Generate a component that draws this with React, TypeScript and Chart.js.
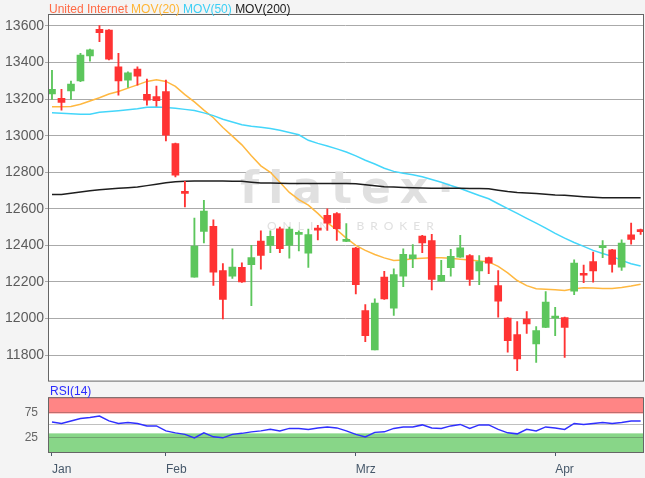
import React, { useEffect, useRef } from 'react';
import { Chart, registerables } from 'chart.js';

Chart.register(...registerables);
Chart.defaults.font.family = '"Liberation Sans", Arial, sans-serif';

// ---- data (one entry per trading day) ----
const OPEN = [13228, 13204, 13245, 13299, 13437, 13582, 13578, 13377, 13304, 13364, 13226, 13214, 13241, 12957, 12692, 12226, 12477, 12504, 12263, 12232, 12280, 12295, 12424, 12400, 12491, 12400, 12460, 12358, 12490, 12564, 12574, 12422, 12385, 12044, 11829, 12227, 12057, 12232, 12327, 12451, 12427, 12205, 12278, 12336, 12345, 12260, 12333, 12181, 12002, 11912, 11997, 11861, 11952, 12002, 12005, 12150, 12243, 12311, 12388, 12376, 12281, 12458, 12481];
const HIGH = [13358, 13253, 13299, 13450, 13474, 13602, 13580, 13450, 13350, 13377, 13310, 13271, 13304, 12960, 12750, 12550, 12647, 12540, 12300, 12382, 12305, 12400, 12480, 12480, 12500, 12500, 12480, 12490, 12510, 12600, 12580, 12520, 12390, 12077, 12108, 12258, 12272, 12382, 12405, 12455, 12460, 12318, 12378, 12455, 12350, 12345, 12336, 12263, 12005, 11984, 12038, 11956, 12148, 12062, 12008, 12321, 12293, 12363, 12427, 12378, 12431, 12522, 12490];
const LOW = [13198, 13140, 13199, 13295, 13408, 13514, 13415, 13222, 13264, 13277, 13167, 13162, 12972, 12775, 12610, 12226, 12413, 12181, 11998, 12220, 12198, 12071, 12270, 12360, 12360, 12330, 12370, 12280, 12430, 12482, 12427, 12420, 12135, 11874, 11829, 12105, 12017, 12175, 12278, 12360, 12157, 12203, 12232, 12334, 12181, 12186, 12245, 12007, 11816, 11715, 11919, 11760, 11950, 11907, 11788, 12130, 12196, 12199, 12333, 12254, 12263, 12407, 12460];
const CLOSE = [13253, 13182, 13282, 13441, 13469, 13563, 13418, 13299, 13344, 13326, 13195, 13191, 13003, 12784, 12685, 12396, 12588, 12254, 12104, 12281, 12200, 12333, 12345, 12450, 12382, 12490, 12470, 12459, 12484, 12522, 12491, 12431, 12186, 11907, 12084, 12108, 12241, 12351, 12349, 12414, 12214, 12236, 12340, 12387, 12214, 12311, 12303, 12095, 11879, 11779, 11970, 11934, 12090, 12008, 11952, 12303, 12237, 12260, 12394, 12296, 12413, 12433, 12475];

const MA20 = [13158, 13158, 13160, 13172, 13190, 13208, 13228, 13242, 13260, 13278, 13297, 13306, 13297, 13270, 13225, 13185, 13140, 13098, 13045, 12998, 12950, 12890, 12835, 12800, 12745, 12690, 12650, 12620, 12575, 12525, 12485, 12440, 12400, 12373, 12350, 12332, 12318, 12320, 12327, 12330, 12333, 12333, 12330, 12325, 12320, 12315, 12310, 12285, 12250, 12208, 12180, 12163, 12160, 12158, 12153, 12163, 12168, 12167, 12164, 12165, 12170, 12178, 12188];
const MA50 = [13125, 13123, 13120, 13118, 13117, 13128, 13132, 13137, 13142, 13148, 13156, 13157, 13154, 13150, 13144, 13138, 13125, 13110, 13090, 13075, 13060, 13052, 13046, 13040, 13030, 13018, 13005, 12975, 12958, 12944, 12928, 12911, 12890, 12866, 12845, 12822, 12805, 12795, 12786, 12775, 12760, 12745, 12728, 12711, 12692, 12673, 12655, 12628, 12601, 12575, 12548, 12522, 12495, 12466, 12440, 12416, 12395, 12373, 12356, 12340, 12318, 12300, 12288];
const MA200 = [12679, 12679, 12685, 12692, 12699, 12705, 12709, 12713, 12716, 12720, 12727, 12735, 12743, 12748, 12751, 12752, 12752, 12752, 12752, 12751, 12751, 12746, 12742, 12741, 12740, 12738, 12738, 12738, 12738, 12738, 12738, 12738, 12737, 12732, 12726, 12721, 12719, 12717, 12715, 12714, 12713, 12713, 12712, 12712, 12711, 12711, 12710, 12702, 12695, 12690, 12687, 12684, 12680, 12676, 12674, 12670, 12666, 12663, 12661, 12661, 12661, 12661, 12661];
const RSI14 = [55.6, 53, 58, 63, 65, 67.6, 58, 53, 55, 53, 48, 48, 38, 34, 31, 24, 34, 26, 24, 31, 33, 36, 38, 41, 38, 43, 43, 41, 44, 46, 44, 38, 31, 26, 35, 36, 43, 46, 46, 50, 44, 43, 48, 51, 43, 50, 50, 41, 34, 32, 41, 38, 46, 44, 41, 53, 51, 53, 55, 53, 55, 57.6, 57.6];

const Y_TICKS = [11800, 12000, 12200, 12400, 12600, 12800, 13000, 13200, 13400, 13600];
const RSI_TICKS = [25, 50, 75];
const RSI_LABELED = [25, 75];
const RSI_HIGH_ZONE = 73;
const RSI_LOW_ZONE = 33;
const MONTH_LABELS = ['Jan', 'Feb', 'Mrz', 'Apr'];
const MONTH_INDEX = [0, 12, 32, 53];

const GREEN = '#5cc65c';
const RED = '#ff3333';
const X_MIN = -0.42;
const X_MAX = 62.25;

const framePlugin = (bands: boolean) => ({
  id: 'frame',
  beforeDraw(chart: any) {
    const { ctx, chartArea: a } = chart;
    const w = a.right - a.left;
    ctx.save();
    ctx.fillStyle = '#ffffff';
    ctx.fillRect(a.left, a.top, w, a.bottom - a.top);
    if (bands) {
      const y = chart.scales.y;
      const yHigh = y.getPixelForValue(RSI_HIGH_ZONE);
      const yLow = y.getPixelForValue(RSI_LOW_ZONE);
      ctx.fillStyle = '#ff8585';
      ctx.fillRect(a.left, a.top, w, yHigh - a.top);
      ctx.fillStyle = '#88d688';
      ctx.fillRect(a.left, yLow, w, a.bottom - yLow);
    }
    ctx.restore();
  },
  afterDraw(chart: any) {
    const { ctx, chartArea: a } = chart;
    ctx.save();
    ctx.strokeStyle = '#666666';
    ctx.lineWidth = 1;
    ctx.strokeRect(a.left + 0.5, a.top + 0.5, a.right - a.left, a.bottom - a.top);
    ctx.restore();
  },
});

const watermarkPlugin = {
  id: 'watermark',
  beforeDatasetsDraw(chart: any) {
    const ctx = chart.ctx;
    ctx.save();
    ctx.fillStyle = '#e0e0e0';
    ctx.textBaseline = 'alphabetic';
    ctx.font = 'bold 44px "DejaVu Sans", sans-serif';
    (ctx as any).letterSpacing = '9px';
    ctx.fillText('flatex·', 240, 203);
    ctx.font = '12px Lato, "Open Sans", sans-serif';
    (ctx as any).letterSpacing = '6px';
    ctx.fillText('ONLINE BROKER', 267, 230);
    ctx.restore();
  },
};

export default function App() {
  const mainRef = useRef<HTMLCanvasElement>(null);
  const rsiRef = useRef<HTMLCanvasElement>(null);

  useEffect(() => {
    const idx = CLOSE.map((_, i) => i);
    const colors = idx.map((i) => (CLOSE[i] >= OPEN[i] ? GREEN : RED));

    const main = new Chart(mainRef.current as HTMLCanvasElement, {
      type: 'bar',
      data: {
        datasets: [
          {
            type: 'bar',
            label: 'body',
            data: idx.map((i) => ({ x: i, y: [Math.min(OPEN[i], CLOSE[i]), Math.max(OPEN[i], CLOSE[i])] })) as any,
            backgroundColor: colors,
            borderWidth: 0,
            barThickness: 7,
            minBarLength: 2,
            grouped: false,
            order: 0,
          } as any,
          {
            type: 'bar',
            label: 'wick',
            data: idx.map((i) => ({ x: i, y: [LOW[i], HIGH[i]] })) as any,
            backgroundColor: colors,
            borderWidth: 0,
            barThickness: 1.2,
            grouped: false,
            order: 1,
          } as any,
          {
            type: 'line',
            label: 'MOV(200)',
            data: idx.map((i) => ({ x: i, y: MA200[i] })),
            borderColor: '#1e1e1e',
            borderWidth: 1.5,
            pointRadius: 0,
            order: 2,
          } as any,
          {
            type: 'line',
            label: 'MOV(50)',
            data: idx.map((i) => ({ x: i, y: MA50[i] })),
            borderColor: '#44d6fa',
            borderWidth: 1.5,
            pointRadius: 0,
            order: 2,
          } as any,
          {
            type: 'line',
            label: 'MOV(20)',
            data: idx.map((i) => ({ x: i, y: MA20[i] })),
            borderColor: '#ffb840',
            borderWidth: 1.5,
            pointRadius: 0,
            order: 2,
          } as any,
        ],
      },
      options: {
        responsive: false,
        animation: false,
        layout: { padding: { top: 14, bottom: 9, left: 0, right: 2 } },
        plugins: { legend: { display: false }, tooltip: { enabled: false } },
        scales: {
          x: {
            type: 'linear',
            min: X_MIN,
            max: X_MAX,
            offset: false,
            display: false,
          },
          y: {
            type: 'linear',
            min: 11660.7,
            max: 13665.6,
            afterBuildTicks: (scale: any) => {
              scale.ticks = Y_TICKS.map((v) => ({ value: v }));
            },
            afterFit: (scale: any) => {
              scale.width = 48;
            },
            border: { display: false },
            grid: { color: '#aaaaaa', lineWidth: 1, tickLength: 3, drawTicks: true },
            ticks: {
              padding: 1,
              color: '#5b5b5b',
              font: { size: 14 },
              callback: (v: any) => String(v),
            },
          },
        },
      } as any,
      plugins: [framePlugin(false), watermarkPlugin],
    });

    const rsi = new Chart(rsiRef.current as HTMLCanvasElement, {
      type: 'line',
      data: {
        datasets: [
          {
            label: 'RSI(14)',
            data: idx.map((i) => ({ x: i, y: RSI14[i] })),
            borderColor: '#3030ff',
            borderWidth: 1.5,
            pointRadius: 0,
          },
        ],
      },
      options: {
        responsive: false,
        animation: false,
        layout: { padding: { top: 17, bottom: 0, left: 0, right: 2 } },
        plugins: { legend: { display: false }, tooltip: { enabled: false } },
        scales: {
          x: {
            type: 'linear',
            min: X_MIN,
            max: X_MAX,
            offset: false,
            afterBuildTicks: (scale: any) => {
              scale.ticks = MONTH_INDEX.map((v) => ({ value: v }));
            },
            afterFit: (scale: any) => {
              scale.height = 26;
            },
            border: { display: false },
            grid: { drawOnChartArea: false, drawTicks: true, tickLength: 4, tickColor: '#4a5a6a' },
            ticks: {
              autoSkip: false,
              maxRotation: 0,
              align: 'start',
              padding: 6,
              color: '#46586a',
              font: { size: 12 },
              callback: (v: any) => {
                const k = MONTH_INDEX.indexOf(v);
                return k >= 0 ? MONTH_LABELS[k] : '';
              },
            },
          },
          y: {
            type: 'linear',
            min: -4.4,
            max: 105.6,
            afterBuildTicks: (scale: any) => {
              scale.ticks = RSI_TICKS.map((v) => ({ value: v }));
            },
            afterFit: (scale: any) => {
              scale.width = 48;
            },
            border: { display: false },
            grid: { color: 'rgba(60,60,60,0.32)', drawTicks: false },
            ticks: {
              padding: 10,
              color: '#666666',
              font: { size: 12 },
              callback: (v: any) => (RSI_LABELED.includes(v) ? String(v) : ''),
            },
          },
        },
      } as any,
      plugins: [framePlugin(true)],
    });

    return () => {
      main.destroy();
      rsi.destroy();
    };
  }, []);

  const font = '"Liberation Sans", Arial, sans-serif';
  return (
    <div
      style={{
        position: 'fixed',
        left: 0,
        top: 0,
        width: 645,
        height: 478,
        background: '#f4f4f4',
        overflow: 'hidden',
        fontFamily: font,
      }}
    >
      <canvas ref={mainRef} width={645} height={390} style={{ position: 'absolute', left: 0, top: 0 }} />
      <canvas ref={rsiRef} width={645} height={98} style={{ position: 'absolute', left: 0, top: 380 }} />
      <div
        style={{
          position: 'absolute',
          left: 49,
          top: 2,
          fontSize: 12,
          lineHeight: '14px',
          whiteSpace: 'nowrap',
        }}
      >
        <span style={{ color: '#ff6a45' }}>United Internet</span>{' '}
        <span style={{ color: '#ffb534' }}>MOV(20)</span>{' '}
        <span style={{ color: '#3dcff5' }}>MOV(50)</span>{' '}
        <span style={{ color: '#1a1a1a' }}>MOV(200)</span>
      </div>
      <div
        style={{
          position: 'absolute',
          left: 50,
          top: 384,
          fontSize: 12,
          lineHeight: '14px',
          color: '#2b2bff',
          whiteSpace: 'nowrap',
        }}
      >
        RSI(14)
      </div>
    </div>
  );
}
